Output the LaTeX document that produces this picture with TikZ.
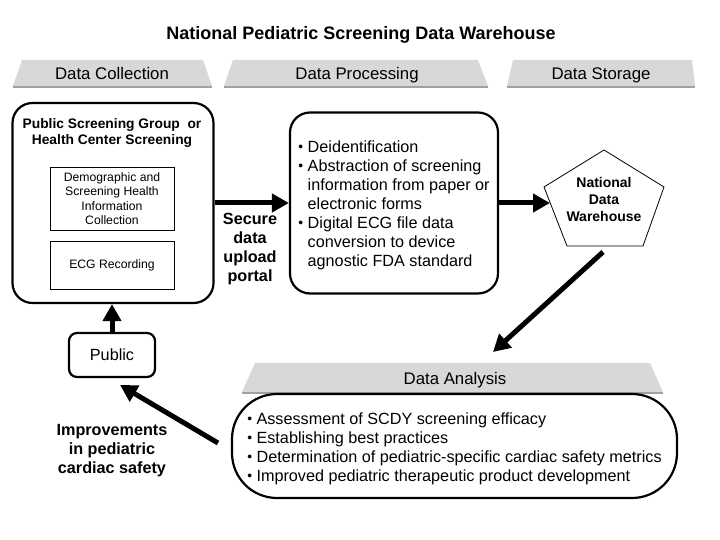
\documentclass[tikz,border=0pt]{standalone}
\usepackage{fontspec}
\setmainfont{Liberation Sans}
\usetikzlibrary{arrows.meta,shapes.geometric}
\definecolor{hdrgray}{RGB}{216,216,216}
\definecolor{hdrshadow}{RGB}{160,160,160}
\tikzset{
  hdr/.style={fill=hdrgray},
  hdrline/.style={draw=hdrshadow,line width=1.5pt},
  hdrtext/.style={font=\fontsize{16.8}{19}\selectfont,inner sep=0pt,anchor=base},
  bigbox/.style={draw,line width=2.2pt,rounded corners=20pt},
  smallbox/.style={draw,line width=0.8pt,minimum width=124pt,align=center,font=\fontsize{12.2}{14.3}\selectfont,inner sep=0pt},
  boldlbl/.style={font=\bfseries\fontsize{16.2}{19}\selectfont,align=center,inner sep=0pt},
  bigarrow/.style={line width=5pt,-{Triangle[length=17pt,width=18pt]}},
}
\newcommand{\bul}{\raisebox{0.15ex}{\scalebox{0.85}{•}}}
\newcommand{\lowerby}[2]{\raisebox{-#1}[\height][\depth]{#2}}
\begin{document}
\begin{tikzpicture}[x=1pt,y=-1pt]
\useasboundingbox (0,0) rectangle (720,540);

% title
\node[font=\bfseries\fontsize{18}{20}\selectfont] (title) at (361,35) {National Pediatric Screening Data Warehouse};

% headers
\fill[hdr] (13,86) -- (22,60) -- (203,60) -- (212,86) -- cycle;
\draw[hdrline] (13,87) -- (212,87);
\node[hdrtext] (hcoll) at (112,80) {Data Collection};
\fill[hdr] (224,86) -- (233,60) -- (478,60) -- (488,86) -- cycle;
\draw[hdrline] (224,87) -- (488,87);
\node[hdrtext] (hproc) at (357,80) {Data Processing};
\fill[hdr] (507,86) -- (513,60) -- (692,60) -- (695,86) -- cycle;
\draw[hdrline] (507,87) -- (695,87);
\node[hdrtext] (hstor) at (601,80) {Data Storage};
\fill[hdr] (242,392) -- (255,363) -- (650,363) -- (663,392) -- cycle;
\draw[hdrline] (242,393) -- (663,393);
\node[hdrtext] (hana) at (455,384) {Data Analysis};

% collection box
\node[bigbox,minimum width=201pt,minimum height=200pt] (coll) at (113,203) {};
\node[font=\bfseries\fontsize{13.8}{16}\selectfont,align=center,inner sep=0pt] (colltitle) at (112,133) {Public Screening Group\ \ or\\Health Center Screening};
\node[smallbox,minimum height=63pt] (demo) at (112,198.5) {Demographic and\\Screening Health\\Information\\Collection};
\node[smallbox,minimum height=48pt] (ecg) at (112,265) {ECG Recording};

% processing box
\node[bigbox,minimum width=208pt,minimum height=181pt,font=\fontsize{16.2}{19}\selectfont] (proc) at (394,203) {\lowerby{3pt}{%
\begin{tabular}{@{}c@{\hspace{4.5pt}}l@{}}
\bul & Deidentification\\
\bul & Abstraction of screening\\
 & information from paper or\\
 & electronic forms\\
\bul & Digital ECG file data\\
 & conversion to device\\
 & agnostic FDA standard
\end{tabular}}};

% secure portal label
\node[boldlbl] (portal) at (250,249) {Secure\\data\\upload\\portal};

% pentagon
\draw[line width=0.8pt] (604,150) -- (664,187) -- (643,246) -- (567,246) -- (544,187) -- cycle;
\node[font=\bfseries\fontsize{14}{17}\selectfont,align=center,inner sep=0pt] (pent) at (604,199) {National\\Data\\Warehouse};
\coordinate (pentW) at (550,203);
\coordinate (pentB) at (603,252);
\coordinate (anaT) at (493,352);

% public box
\node[draw,line width=2.2pt,rounded corners=8pt,minimum width=86pt,minimum height=44pt,font=\fontsize{16.2}{19}\selectfont] (pub) at (112,355) {Public};

% analysis box
\node[draw,line width=2.2pt,rounded corners=45pt,minimum width=445pt,minimum height=104pt,font=\fontsize{16.2}{19}\selectfont] (ana) at (454.5,446) {\lowerby{3pt}{%
\begin{tabular}{@{}c@{\hspace{4.5pt}}l@{}}
\bul & Assessment of SCDY screening efficacy\\
\bul & Establishing best practices\\
\bul & Determination of pediatric-specific cardiac safety metrics\\
\bul & Improved pediatric therapeutic product development
\end{tabular}}};

\node[boldlbl] (impr) at (112,451) {Improvements\\in pediatric\\cardiac safety};
\coordinate (anaTail) at (218,443);
\coordinate (pubTip) at (120,385);

% arrows
\draw[bigarrow] (coll.east) -- (proc.west);
\draw[bigarrow] (proc.east) -- (pentW);
\draw[bigarrow] (pentB) -- (anaT);
\draw[bigarrow] (pub.north) -- (pub.north |- coll.south);
\draw[bigarrow] (anaTail) -- (pubTip);
\end{tikzpicture}
\end{document}
